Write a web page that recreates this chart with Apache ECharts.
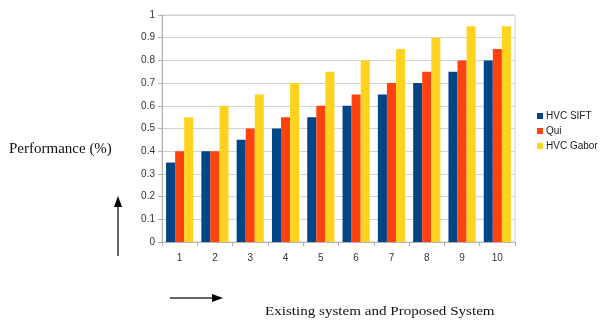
<!DOCTYPE html>
<html>
<head>
<meta charset="utf-8">
<script src="https://cdn.jsdelivr.net/npm/echarts@6/dist/echarts.min.js"></script>
<style>
  html, body { margin: 0; padding: 0; background: #fff; }
  #chart { width: 602px; height: 324px; }
</style>
</head>
<body>
<div id="chart"></div>
<script>
// Categories and series values
const categories = ['1', '2', '3', '4', '5', '6', '7', '8', '9', '10'];
const hvcSift = [0.35, 0.4, 0.45, 0.5, 0.55, 0.6, 0.65, 0.7, 0.75, 0.8];
const qui = [0.4, 0.4, 0.5, 0.55, 0.6, 0.65, 0.7, 0.75, 0.8, 0.85];
const hvcGabor = [0.55, 0.6, 0.65, 0.7, 0.75, 0.8, 0.85, 0.9, 0.95, 0.95];
const seriesNames = ['HVC SIFT', 'Qui', 'HVC Gabor'];
const colors = ['#004586', '#ff420e', '#ffd320'];

const chart = echarts.init(document.getElementById('chart'), null, { renderer: 'canvas' });

const serif = '"Liberation Serif", "DejaVu Serif", serif';
const sans = '"Liberation Sans", Arial, sans-serif';

chart.setOption({
  animation: false,
  color: colors,
  grid: {
    left: 162, right: 87, top: 15, bottom: 82,
    show: true, borderColor: '#d0d0d0', borderWidth: 1
  },
  legend: {
    orient: 'vertical',
    left: 532, top: 106,
    itemWidth: 6, itemHeight: 6, itemGap: 5,
    icon: 'rect',
    textStyle: { fontFamily: sans, fontSize: 10, color: '#222', padding: [0, 0, 0, -2] },
    data: seriesNames
  },
  xAxis: {
    type: 'category',
    data: categories,
    axisLine: { lineStyle: { color: '#b3b3b3' } },
    axisTick: { show: true, length: 4, lineStyle: { color: '#b3b3b3' } },
    axisLabel: { fontFamily: sans, fontSize: 10, color: '#333', margin: 11 }
  },
  yAxis: {
    type: 'value',
    min: 0, max: 1, interval: 0.1,
    axisLine: { show: true, lineStyle: { color: '#b3b3b3' } },
    axisTick: { show: true, length: 4, lineStyle: { color: '#b3b3b3' } },
    axisLabel: { fontFamily: sans, fontSize: 10, color: '#333', margin: 7,
      formatter: v => String(Math.round(v * 10) / 10) },
    splitLine: { lineStyle: { color: '#d4d4d4' } }
  },
  series: [
    { name: seriesNames[0], type: 'bar', data: hvcSift, barGap: '0%', barCategoryGap: '23%' },
    { name: seriesNames[1], type: 'bar', data: qui, barGap: '0%', barCategoryGap: '23%' },
    { name: seriesNames[2], type: 'bar', data: hvcGabor, barGap: '0%', barCategoryGap: '23%' }
  ],
  graphic: [
    { type: 'text', left: 9, top: 142,
      style: { text: 'Performance (%)', font: '15px ' + serif, fill: '#111' } },
    { type: 'text', x: 265, y: 305, scaleX: 1.16,
      style: { text: 'Existing system and Proposed System', font: '13px ' + serif, fill: '#111' } },
    // upward arrow
    { type: 'line', shape: { x1: 118, y1: 256, x2: 118, y2: 204 },
      style: { stroke: '#000', lineWidth: 1.2 } },
    { type: 'polygon', shape: { points: [[118, 196], [114, 207], [122, 207]] },
      style: { fill: '#000' } },
    // rightward arrow
    { type: 'line', shape: { x1: 170, y1: 298, x2: 214, y2: 298 },
      style: { stroke: '#333', lineWidth: 1.5 } },
    { type: 'polygon', shape: { points: [[223, 298], [212, 294], [212, 302]] },
      style: { fill: '#000' } }
  ]
});
</script>
</body>
</html>
